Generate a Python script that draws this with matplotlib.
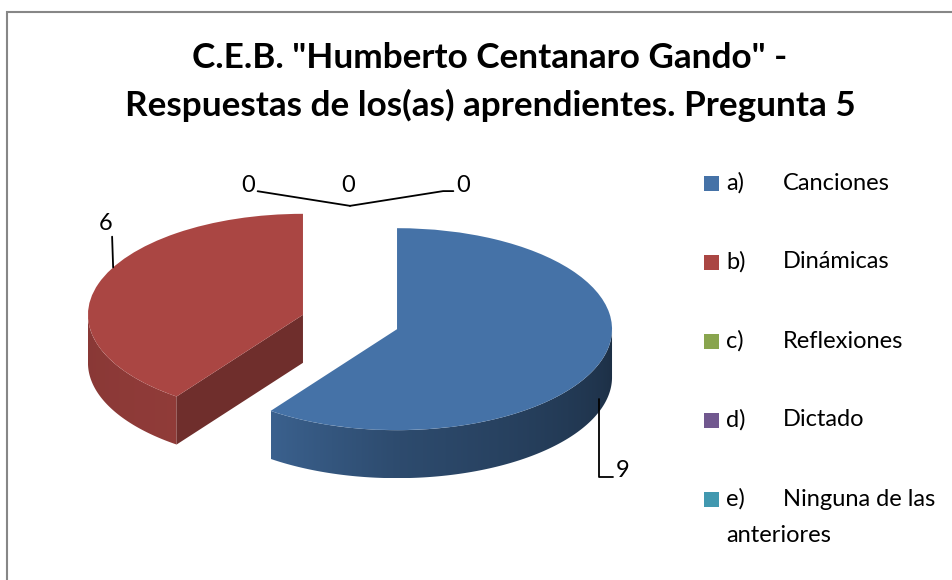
import numpy as np
import matplotlib
matplotlib.use('Agg')
import matplotlib.pyplot as plt
from matplotlib.patches import Polygon, Rectangle
from matplotlib.colors import to_rgb

# ---------------- data ----------------
title = 'C.E.B. "Humberto Centanaro Gando" -\nRespuestas de los(as) aprendientes. Pregunta 5'
categories = ["a)\tCanciones", "b)\tDinámicas", "c)\tReflexiones",
              "d)\tDictado", "e)\tNinguna de las\nanteriores"]
values = [9, 6, 0, 0, 0]
colors = ["#4572A7", "#AA4643", "#89A54E", "#71588F", "#4198AF"]

# ---------------- layout ----------------
W, H = 952, 580
FONT = ['Lato', 'DejaVu Sans']
plt.rcParams['font.family'] = FONT

fig = plt.figure(figsize=(W / 100, H / 100), dpi=100)

def fx(px):
    return px / W

def fy(py):
    return 1 - py / H

# pie pixel mapping (centre and radii of the elliptical projection)
X0, Y0, SX, SY = 350, 322, 215, 101
DEPTH = 48 / SY

ax = fig.add_axes([0, 0, 1, 1])
wedges, _ = ax.pie(values, colors=colors, startangle=90, counterclock=False,
                   explode=[0.23] * len(values), radius=1,
                   wedgeprops=dict(linewidth=0, zorder=3))
ax.axis('off')


def shade(t):
    """brightness factor of the side wall for outward angle t (deg)."""
    t = ((t + 180) % 360) - 180  # -180..180
    pts_t = [-180, -126, -90, 0]
    pts_f = [0.80, 0.85, 0.66, 0.40]
    return np.interp(t, pts_t, pts_f)


for w, col in zip(wedges, colors):
    if w.theta2 - w.theta1 <= 0:
        continue
    cx, cy = w.center
    r = w.r
    base = np.array(to_rgb(col))
    ts = np.linspace(w.theta1, w.theta2, 400)
    front = ts[np.sin(np.radians(ts)) < 0]
    if len(front) > 1:
        rad = np.radians(front)
        top = np.column_stack([cx + r * np.cos(rad), cy + r * np.sin(rad)])
        bot = top - [0, DEPTH]
        poly = np.vstack([top, bot[::-1]])
        patch = Polygon(poly, closed=True, facecolor='none', edgecolor='none',
                        transform=ax.transData)
        ax.add_patch(patch)
        xmin, xmax = poly[:, 0].min(), poly[:, 0].max()
        xs = np.linspace(xmin, xmax, 300)
        tt = -np.degrees(np.arccos(np.clip((xs - cx) / r, -1, 1)))
        img = np.clip(base[None, :] * shade(tt)[:, None], 0, 1)[None, :, :]
        im = ax.imshow(img, extent=[xmin, xmax, poly[:, 1].min(), poly[:, 1].max()],
                       aspect='auto', interpolation='bilinear', zorder=2)
        im.set_clip_path(patch)
    # radial walls that face the viewer
    for t, vis in ((w.theta1, np.cos(np.radians(w.theta1)) > 1e-6),
                   (w.theta2, np.cos(np.radians(w.theta2)) < -1e-6)):
        if vis:
            p = np.array([cx + r * np.cos(np.radians(t)), cy + r * np.sin(np.radians(t))])
            c = np.array([cx, cy])
            face = np.array([c, p, p - [0, DEPTH], c - [0, DEPTH]])
            ax.add_patch(Polygon(face, closed=True, facecolor=base * 0.65,
                                 edgecolor='none', zorder=2.5))

ax.set_aspect('auto')
ax.set_xlim(-X0 / SX, (W - X0) / SX)
ax.set_ylim((Y0 - H) / SY, Y0 / SY)

# ---------------- data labels ----------------
label_fs = 17
layout = [
    # (anchor angle shift, anchor radius factor, drop in depth units, text offset px, relpos, connection)
    (-2, 1.0, 0.73, (24, -72), (0, 0.2), "angle,angleA=0,angleB=90"),
    (-10, 1.0, 0.0, (-8, 44), (1, 0), "arc3"),
    (0, 0.92, 0.0, (-102, 20), (1, 0.25), "angle,angleA=0,angleB=171"),
    (0, 0.92, 0.0, (-2, 20), None, None),
    (0, 0.92, 0.0, (113, 20), (0, 0.25), "angle,angleA=0,angleB=9"),
]
for w, v, (dm, rf, drop, off, relpos, cs) in zip(wedges, values, layout):
    m = np.radians((w.theta1 + w.theta2) / 2 + dm)
    cx, cy = w.center
    xy = (cx + rf * w.r * np.cos(m), cy + rf * w.r * np.sin(m) - drop * DEPTH)
    kw = {}
    if cs is not None:
        kw['arrowprops'] = dict(arrowstyle='-', color='black', lw=1.3,
                                connectionstyle=cs, relpos=relpos,
                                shrinkA=0, shrinkB=0)
    ax.annotate(str(v), xy=xy, xytext=off, textcoords='offset pixels',
                ha='center', va='center', fontsize=label_fs, color='black',
                zorder=5, annotation_clip=False, **kw)

# ---------------- title ----------------
fig.text(fx(490), fy(82), title, ha='center', va='center', fontsize=25.3,
         fontweight='bold', linespacing=1.58, color='black')

# ---------------- legend ----------------
leg_fs = 17
for i, (cat, col) in enumerate(zip(categories, colors)):
    y = 183 + 79 * i
    fig.add_artist(Rectangle((fx(704), fy(y + 7.5)), 15 / W, 15 / H,
                             transform=fig.transFigure, facecolor=col,
                             edgecolor='none'))
    prefix, name = cat.split('\t')
    fig.text(fx(726), fy(y), prefix, ha='left', va='center', fontsize=leg_fs)
    lines = name.split('\n')
    fig.text(fx(783), fy(y), lines[0], ha='left', va='center', fontsize=leg_fs)
    for k, extra in enumerate(lines[1:], start=1):
        fig.text(fx(726), fy(y + 37 * k), extra, ha='left', va='center',
                 fontsize=leg_fs)

# ---------------- chart border ----------------
fig.add_artist(Rectangle((fx(7), -0.1), 1.2, fy(12) + 0.1,
                         transform=fig.transFigure, fill=False,
                         edgecolor='#878787', lw=1.5))

fig.savefig('out.png', dpi=100)
